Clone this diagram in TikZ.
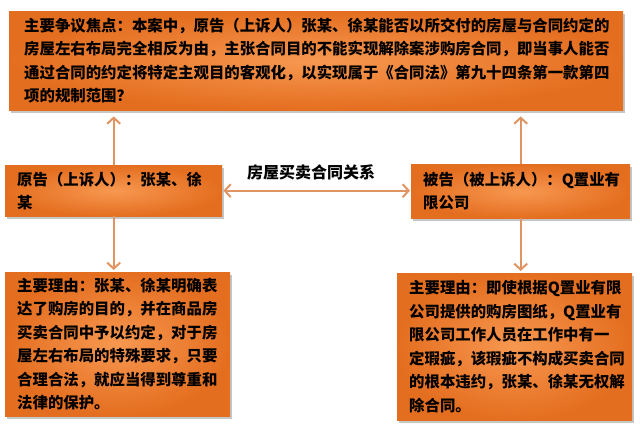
\documentclass[tikz,border=0pt]{standalone}
\usepackage{fontspec}
\newfontfamily\cjk{Noto Sans CJK SC}
\usetikzlibrary{positioning,shadows,arrows.meta}
\definecolor{boxedge}{RGB}{228,110,32}
\definecolor{boxmid}{RGB}{247,152,80}
\definecolor{linkcol}{RGB}{224,148,98}

\begin{document}
\begin{tikzpicture}[x=1pt, y=-1pt,
	panel/.style={anchor=north west, inner color=boxmid, outer color=boxedge,
		drop shadow={shadow xshift=2pt, shadow yshift=-2.5pt, opacity=.45},
		align=left, inner xsep=12pt, inner ysep=0pt, text=black,
		font=\cjk\bfseries\fontsize{15.4}{23.5}\selectfont},
	link/.style={draw=linkcol, line width=2pt}]
		\useasboundingbox (0,0) rectangle (640,428);
		\node (focus) at (9, 11) [panel, minimum width=614pt, minimum height=99pt, inner xsep=15pt, text width=584pt] {主要争议焦点：本案中，原告（上诉人）张某、徐某能否以所交付的房屋与合同约定的\\房屋左右布局完全相反为由，主张合同目的不能实现解除案涉购房合同，即当事人能否\\通过合同的约定将特定主观目的客观化，以实现属于《合同法》第九十四条第一款第四\\项的规制范围？};
		\node (plaintiff) at (5, 165) [panel, minimum width=217pt, minimum height=51pt, text width=193pt, font=\cjk\bfseries\fontsize{15.4}{23}\selectfont] {原告（上诉人）：张某、徐\\某};
		\node (defendant) at (411, 164) [panel, minimum width=219pt, minimum height=54pt, text width=195pt, font=\cjk\bfseries\fontsize{15.4}{23}\selectfont] {被告（被上诉人）：Q置业有\\限公司};
		\node (plainreason) at (5, 272) [panel, minimum width=225pt, minimum height=144pt, text width=201pt] {主要理由：张某、徐某明确表\\达了购房的目的，并在商品房\\买卖合同中予以约定，对于房\\屋左右布局的特殊要求，只要\\合理合法，就应当得到尊重和\\法律的保护。};
		\node (defreason) at (397, 273) [panel, minimum width=235pt, minimum height=147pt, text width=211pt] {主要理由：即使根据Q置业有限\\公司提供的购房图纸，Q置业有\\限公司工作人员在工作中有一\\定瑕疵，该瑕疵不构成买卖合同\\的根本违约，张某、徐某无权解\\除合同。};
		\node (deal) at (311, 172) [font=\cjk\bfseries\fontsize{16}{18}\selectfont] {房屋买卖合同关系};
		
		\draw[link, -{Straight Barb[length=6pt, width=13pt]}, shorten >=6pt] (plaintiff.north) -- (plaintiff.north |- focus.south);
		\draw[link, -{Straight Barb[length=6pt, width=13pt]}, shorten >=6pt] (defendant.north) -- (defendant.north |- focus.south);
		\draw[link, -{Straight Barb[length=6pt, width=13pt]}, shorten >=2pt] (plaintiff.south) -- (plaintiff.south |- plainreason.north);
		\draw[link, -{Straight Barb[length=6pt, width=13pt]}, shorten >=2pt] (defendant.south) -- (defendant.south |- defreason.north);
		\draw[link, {Straight Barb[length=6pt, width=13pt]}-{Straight Barb[length=6pt, width=13pt]}, shorten <=1pt, shorten >=1pt] (plaintiff.east) -- (plaintiff.east -| defendant.west);
		
	\end{tikzpicture}
\end{document}
